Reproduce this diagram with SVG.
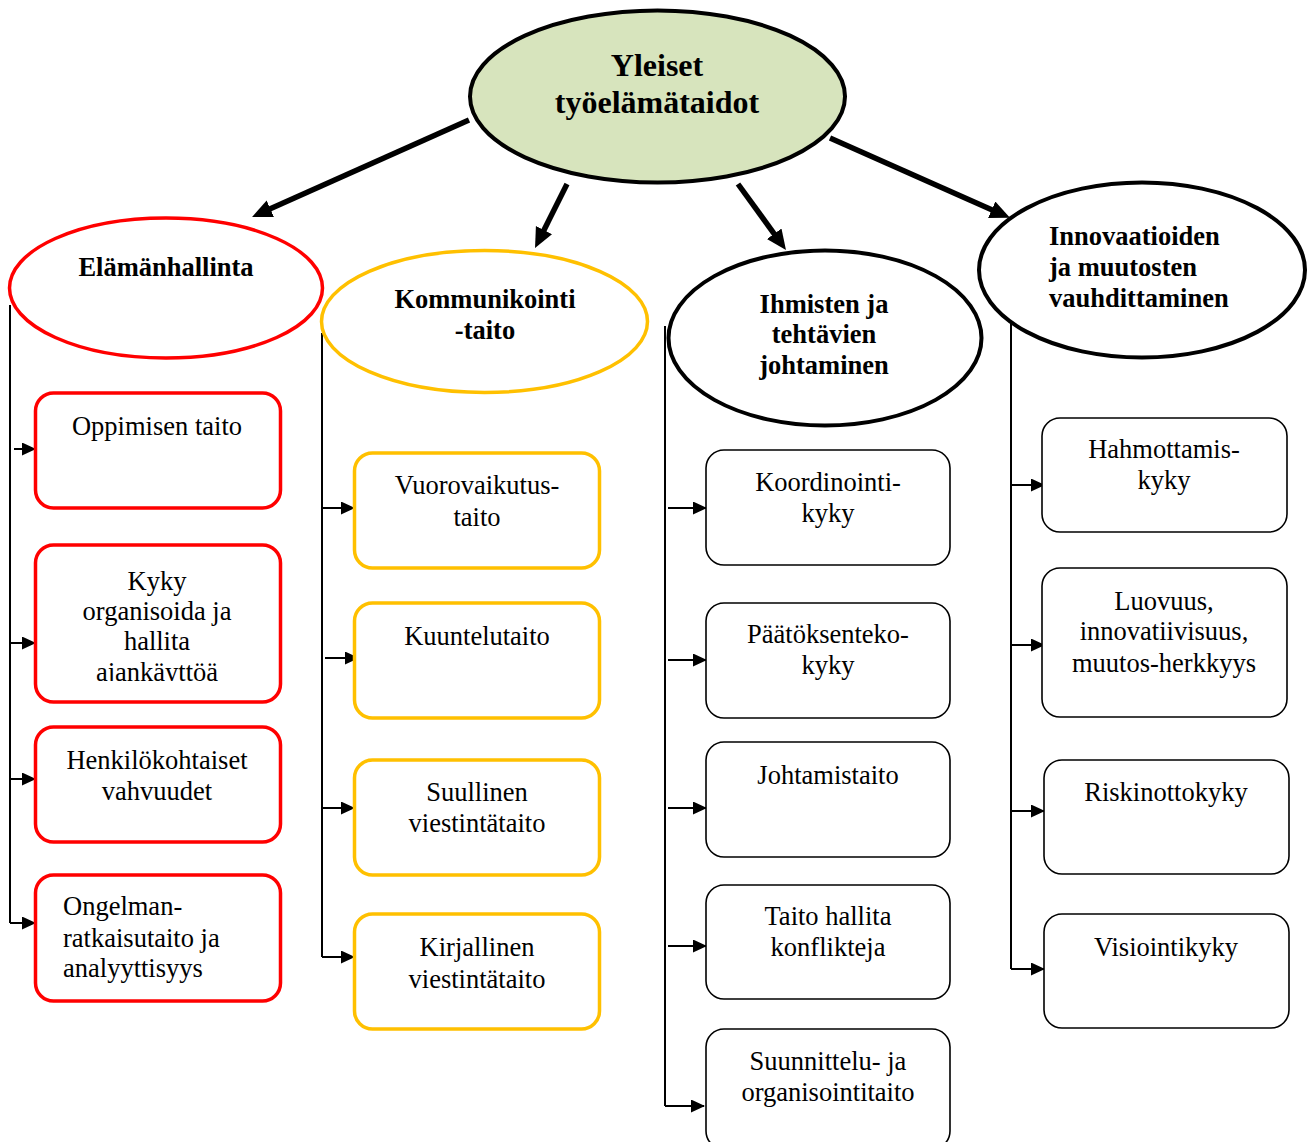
<svg xmlns="http://www.w3.org/2000/svg" width="1309" height="1142" viewBox="0 0 1309 1142">
<style>
.t{font-family:"Liberation Serif","Times New Roman",serif;font-size:26.5px;fill:#000;text-anchor:middle}
.h{font-family:"Liberation Serif","Times New Roman",serif;font-size:26.5px;font-weight:bold;fill:#000;text-anchor:middle}
.big{font-size:32px}
text.tl{text-anchor:start}
.red{fill:#fff;stroke:#ff0000;stroke-width:3.5}
.yel{fill:#fff;stroke:#ffc000;stroke-width:3.5}
.blk{fill:#fff;stroke:#000;stroke-width:1.6}
.thick{stroke:#000;stroke-width:5.5;fill:none;marker-end:url(#bigArrow)}
.stem{stroke:#000;stroke-width:2;fill:none}
.small{stroke:#000;stroke-width:2;fill:none;marker-end:url(#smallArrow)}
</style>
<defs>
<marker id="bigArrow" markerUnits="userSpaceOnUse" markerWidth="22" markerHeight="20" refX="8" refY="9" orient="auto">
<path d="M0,0 L20,9 L0,18 z" fill="#000"/>
</marker>
<marker id="smallArrow" markerUnits="userSpaceOnUse" markerWidth="16" markerHeight="14" refX="13" refY="6.5" orient="auto">
<path d="M0,0 L14,6.5 L0,13 z" fill="#000"/>
</marker>
<clipPath id="clipKyky"><rect x="35" y="545" width="246" height="136"/></clipPath>
</defs>
<rect width="1309" height="1142" fill="#fff"/>

<g id="connectors">
<line class="thick" x1="469" y1="120" x2="263" y2="212"/>
<line class="thick" x1="567" y1="184" x2="540.4" y2="237.3"/>
<line class="thick" x1="738" y1="184" x2="778.9" y2="240.3"/>
<line class="thick" x1="830" y1="138" x2="999" y2="213"/>

<line class="stem" x1="10" y1="305" x2="10" y2="923"/>
<line class="small" x1="14" y1="449" x2="35" y2="449"/>
<line class="small" x1="10" y1="643" x2="35" y2="643"/>
<line class="small" x1="10" y1="779" x2="35" y2="779"/>
<line class="small" x1="10" y1="923" x2="35" y2="923"/>

<line class="stem" x1="322" y1="333" x2="322" y2="957"/>
<line class="small" x1="322" y1="508" x2="354" y2="508"/>
<line class="small" x1="325" y1="658" x2="358" y2="658"/>
<line class="small" x1="322" y1="808" x2="354" y2="808"/>
<line class="small" x1="322" y1="957" x2="354" y2="957"/>

<line class="stem" x1="665" y1="326" x2="665" y2="1106"/>
<line class="small" x1="668" y1="508" x2="706" y2="508"/>
<line class="small" x1="668" y1="660" x2="706" y2="660"/>
<line class="small" x1="668" y1="808" x2="706" y2="808"/>
<line class="small" x1="668" y1="946" x2="706" y2="946"/>
<line class="small" x1="665" y1="1106" x2="704" y2="1106"/>

<line class="stem" x1="1011" y1="318" x2="1011" y2="969"/>
<line class="small" x1="1011" y1="485" x2="1044" y2="485"/>
<line class="small" x1="1011" y1="645" x2="1044" y2="645"/>
<line class="small" x1="1011" y1="811" x2="1044" y2="811"/>
<line class="small" x1="1011" y1="969" x2="1044" y2="969"/>
</g>

<g id="root">
<ellipse cx="657.5" cy="96.5" rx="187.5" ry="86" fill="#d7e4bd" stroke="#000" stroke-width="4"/>
<text class="h big" x="657" y="76">Yleiset</text>
<text class="h big" x="657" y="113">työelämätaidot</text>
</g>

<g id="elamanhallinta">
<ellipse cx="166" cy="288" rx="156.5" ry="70" fill="#fff" stroke="#ff0000" stroke-width="3.5"/>
<text class="h" x="166" y="276">Elämänhallinta</text>
</g>
<g id="kommunikointi">
<ellipse cx="484.5" cy="321.5" rx="163" ry="71" fill="#fff" stroke="#ffc000" stroke-width="3.5"/>
<text class="h" x="485" y="308">Kommunikointi</text>
<text class="h" x="485" y="339">-taito</text>
</g>
<g id="ihmisten">
<ellipse cx="825" cy="338" rx="156.5" ry="87.5" fill="#fff" stroke="#000" stroke-width="4"/>
<text class="h" x="824" y="313">Ihmisten ja</text>
<text class="h" x="824" y="343">tehtävien</text>
<text class="h" x="824" y="374">johtaminen</text>
</g>
<g id="innovaatioiden">
<ellipse cx="1142" cy="270" rx="163" ry="87.5" fill="#fff" stroke="#000" stroke-width="4"/>
<text class="h tl" x="1049" y="245">Innovaatioiden</text>
<text class="h tl" x="1049" y="276">ja muutosten</text>
<text class="h tl" x="1049" y="307">vauhdittaminen</text>
</g>

<g id="oppimisen">
<rect class="red" x="35.5" y="393" width="245" height="115" rx="18"/>
<text class="t" x="157" y="435">Oppimisen taito</text>
</g>
<g id="kyky-organisoida">
<rect class="red" x="35.5" y="545" width="245" height="157" rx="18"/>
<g clip-path="url(#clipKyky)">
<text class="t" x="157" y="590">Kyky</text>
<text class="t" x="157" y="620">organisoida ja</text>
<text class="t" x="157" y="650">hallita</text>
<text class="t" x="157" y="681">ajankäyttöä</text>
</g>
</g>
<g id="henkilokohtaiset">
<rect class="red" x="35.5" y="727" width="245" height="115" rx="18"/>
<text class="t" x="157" y="769">Henkilökohtaiset</text>
<text class="t" x="157" y="800">vahvuudet</text>
</g>
<g id="ongelman">
<rect class="red" x="35.5" y="875" width="245" height="126" rx="18"/>
<text class="t tl" x="63" y="915">Ongelman-</text>
<text class="t tl" x="63" y="947">ratkaisutaito ja</text>
<text class="t tl" x="63" y="977">analyyttisyys</text>
</g>

<g id="vuorovaikutus">
<rect class="yel" x="354.5" y="453" width="245" height="115" rx="18"/>
<text class="t" x="477" y="494">Vuorovaikutus-</text>
<text class="t" x="477" y="526">taito</text>
</g>
<g id="kuuntelutaito">
<rect class="yel" x="354.5" y="603" width="245" height="115" rx="18"/>
<text class="t" x="477" y="645">Kuuntelutaito</text>
</g>
<g id="suullinen">
<rect class="yel" x="354.5" y="760" width="245" height="115" rx="18"/>
<text class="t" x="477" y="801">Suullinen</text>
<text class="t" x="477" y="832">viestintätaito</text>
</g>
<g id="kirjallinen">
<rect class="yel" x="354.5" y="914" width="245" height="115" rx="18"/>
<text class="t" x="477" y="956">Kirjallinen</text>
<text class="t" x="477" y="988">viestintätaito</text>
</g>

<g id="koordinointi">
<rect class="blk" x="706" y="450" width="244" height="115" rx="18"/>
<text class="t" x="828" y="491">Koordinointi-</text>
<text class="t" x="828" y="522">kyky</text>
</g>
<g id="paatoksenteko">
<rect class="blk" x="706" y="603" width="244" height="115" rx="18"/>
<text class="t" x="828" y="643">Päätöksenteko-</text>
<text class="t" x="828" y="674">kyky</text>
</g>
<g id="johtamistaito">
<rect class="blk" x="706" y="742" width="244" height="115" rx="18"/>
<text class="t" x="828" y="784">Johtamistaito</text>
</g>
<g id="konfliktit">
<rect class="blk" x="706" y="885" width="244" height="114" rx="18"/>
<text class="t" x="828" y="925">Taito hallita</text>
<text class="t" x="828" y="956">konflikteja</text>
</g>
<g id="suunnittelu">
<rect class="blk" x="706" y="1029" width="244" height="120" rx="18"/>
<text class="t" x="828" y="1070">Suunnittelu- ja</text>
<text class="t" x="828" y="1101">organisointitaito</text>
</g>

<g id="hahmottamis">
<rect class="blk" x="1042" y="418" width="245" height="114" rx="18"/>
<text class="t" x="1164" y="458">Hahmottamis-</text>
<text class="t" x="1164" y="489">kyky</text>
</g>
<g id="luovuus">
<rect class="blk" x="1042" y="568" width="245" height="149" rx="18"/>
<text class="t" x="1164" y="610">Luovuus,</text>
<text class="t" x="1164" y="640">innovatiivisuus,</text>
<text class="t" x="1164" y="672">muutos-herkkyys</text>
</g>
<g id="riskinotto">
<rect class="blk" x="1044" y="760" width="245" height="114" rx="18"/>
<text class="t" x="1166" y="801">Riskinottokyky</text>
</g>
<g id="visiointi">
<rect class="blk" x="1044" y="914" width="245" height="114" rx="18"/>
<text class="t" x="1166" y="956">Visiointikyky</text>
</g>
</svg>
